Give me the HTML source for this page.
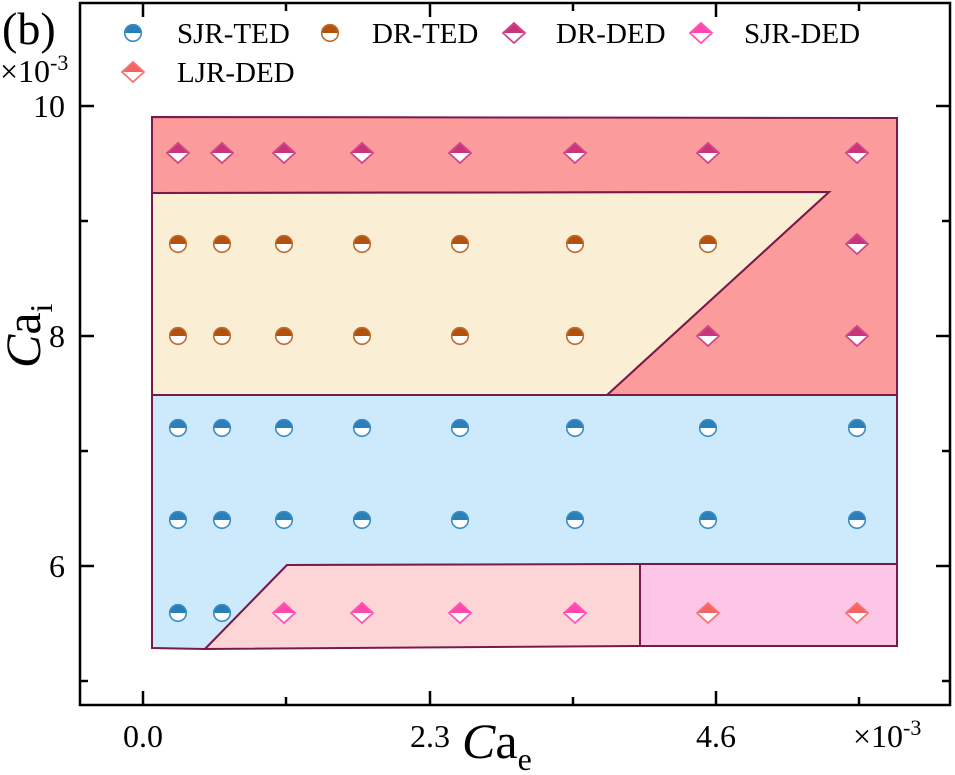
<!DOCTYPE html>
<html><head><meta charset="utf-8"><style>
html,body{margin:0;padding:0;background:#fff;}
svg{display:block;font-family:"Liberation Serif",serif;}
</style></head><body>
<svg width="955" height="775" viewBox="0 0 955 775" xmlns="http://www.w3.org/2000/svg">
<defs>
<g id="circ-b"><path d="M-9,0 A9,9 0 0 1 9,0 Z" fill="#2a7fb8"/><path d="M-9,0 A9,9 0 0 0 9,0 Z" fill="#fff"/><circle r="8.3" fill="none" stroke="#3a8cc4" stroke-width="1.6"/></g>
<g id="circ-o"><path d="M-9,0 A9,9 0 0 1 9,0 Z" fill="#b2520f"/><path d="M-9,0 A9,9 0 0 0 9,0 Z" fill="#fff"/><circle r="8.3" fill="none" stroke="#bf6a2a" stroke-width="1.6"/></g>
<g id="dia-r"><path d="M-12,0 L0,-11 L12,0 Z" fill="#c9357a"/><path d="M-12,0 L0,11 L12,0 Z" fill="#fff"/><path d="M-11,0 L0,-10 L11,0 L0,10 Z" fill="none" stroke="#d2468a" stroke-width="1.8"/></g>
<g id="dia-p"><path d="M-12,0 L0,-11 L12,0 Z" fill="#ff47ad"/><path d="M-12,0 L0,11 L12,0 Z" fill="#fff"/><path d="M-11,0 L0,-10 L11,0 L0,10 Z" fill="none" stroke="#ff55b3" stroke-width="1.8"/></g>
<g id="dia-l"><path d="M-12,0 L0,-11 L12,0 Z" fill="#f46462"/><path d="M-12,0 L0,11 L12,0 Z" fill="#fff"/><path d="M-11,0 L0,-10 L11,0 L0,10 Z" fill="none" stroke="#f77472" stroke-width="1.8"/></g>
</defs>
<g stroke="#7a1a4a" stroke-width="2" stroke-linejoin="miter">
<polygon points="152,117 897,118 897,395 607,395 829,192 152,193" fill="#fb9b9b"/>
<polygon points="152,193 829,192 607,395 152,395" fill="#faefd5"/>
<polygon points="152,395 897,395 897,564 287,565 205,649 152,648" fill="#cdeafd"/>
<polygon points="205,649 287,565 640,564 640,646" fill="#fdd5d7"/>
<polygon points="640,564 897,564 897,646 640,646" fill="#fdc6e6"/>
</g>
<g>
<use href="#dia-r" x="178" y="153"/><use href="#dia-r" x="222" y="153"/><use href="#dia-r" x="284" y="153"/><use href="#dia-r" x="362" y="153"/><use href="#dia-r" x="460" y="153"/><use href="#dia-r" x="575" y="153"/><use href="#dia-r" x="708" y="153"/><use href="#dia-r" x="857" y="153"/>
<use href="#circ-o" x="178" y="244"/><use href="#circ-o" x="222" y="244"/><use href="#circ-o" x="284" y="244"/><use href="#circ-o" x="362" y="244"/><use href="#circ-o" x="460" y="244"/><use href="#circ-o" x="575" y="244"/><use href="#circ-o" x="708" y="244"/><use href="#dia-r" x="857" y="244"/>
<use href="#circ-o" x="178" y="336"/><use href="#circ-o" x="222" y="336"/><use href="#circ-o" x="284" y="336"/><use href="#circ-o" x="362" y="336"/><use href="#circ-o" x="460" y="336"/><use href="#circ-o" x="575" y="336"/><use href="#dia-r" x="708" y="336"/><use href="#dia-r" x="857" y="336"/>
<use href="#circ-b" x="178" y="428"/><use href="#circ-b" x="222" y="428"/><use href="#circ-b" x="284" y="428"/><use href="#circ-b" x="362" y="428"/><use href="#circ-b" x="460" y="428"/><use href="#circ-b" x="575" y="428"/><use href="#circ-b" x="708" y="428"/><use href="#circ-b" x="857" y="428"/>
<use href="#circ-b" x="178" y="520"/><use href="#circ-b" x="222" y="520"/><use href="#circ-b" x="284" y="520"/><use href="#circ-b" x="362" y="520"/><use href="#circ-b" x="460" y="520"/><use href="#circ-b" x="575" y="520"/><use href="#circ-b" x="708" y="520"/><use href="#circ-b" x="857" y="520"/>
<use href="#circ-b" x="178" y="613"/><use href="#circ-b" x="222" y="613"/><use href="#dia-p" x="284" y="613"/><use href="#dia-p" x="362" y="613"/><use href="#dia-p" x="460" y="613"/><use href="#dia-p" x="575" y="613"/><use href="#dia-l" x="708" y="613"/><use href="#dia-l" x="857" y="613"/>
</g>
<rect x="80" y="3" width="870" height="702" fill="none" stroke="#000" stroke-width="2.5"/>
<g stroke="#000" stroke-width="2.5">
<line x1="143" y1="705" x2="143" y2="691"/><line x1="286" y1="705" x2="286" y2="697"/><line x1="430" y1="705" x2="430" y2="691"/><line x1="573" y1="705" x2="573" y2="697"/><line x1="716" y1="705" x2="716" y2="691"/><line x1="859" y1="705" x2="859" y2="697"/>
<line x1="143" y1="3" x2="143" y2="17"/><line x1="286" y1="3" x2="286" y2="11"/><line x1="430" y1="3" x2="430" y2="17"/><line x1="573" y1="3" x2="573" y2="11"/><line x1="716" y1="3" x2="716" y2="17"/><line x1="859" y1="3" x2="859" y2="11"/>
<line x1="80" y1="106" x2="94" y2="106"/><line x1="80" y1="221" x2="88" y2="221"/><line x1="80" y1="336" x2="94" y2="336"/><line x1="80" y1="451" x2="88" y2="451"/><line x1="80" y1="566" x2="94" y2="566"/><line x1="80" y1="681" x2="88" y2="681"/>
<line x1="950" y1="106" x2="936" y2="106"/><line x1="950" y1="221" x2="942" y2="221"/><line x1="950" y1="336" x2="936" y2="336"/><line x1="950" y1="451" x2="942" y2="451"/><line x1="950" y1="566" x2="936" y2="566"/><line x1="950" y1="681" x2="942" y2="681"/>
</g>
<g font-size="32" fill="#000">
<text x="65" y="117" text-anchor="end">10</text>
<text x="65" y="347" text-anchor="end">8</text>
<text x="65" y="577" text-anchor="end">6</text>
<text x="143" y="747" text-anchor="middle">0.0</text>
<text x="430" y="747" text-anchor="middle">2.3</text>
<text x="716" y="747" text-anchor="middle">4.6</text>
<text x="853" y="747">×10<tspan font-size="22" dy="-12">-3</tspan></text>
<text x="0" y="82">×10<tspan font-size="22" dy="-12">-3</tspan></text>
</g>
<text x="2" y="44" font-size="46">(b)</text>
<text x="462" y="758" font-size="50"><tspan font-style="italic">C</tspan>a<tspan font-size="32" dy="12">e</tspan></text>
<text transform="translate(40,368) rotate(-90)" font-size="50"><tspan font-style="italic">C</tspan>a<tspan font-size="32" dy="12">i</tspan></text>
<g font-size="29">
<use href="#circ-b" x="133" y="33"/><text x="177" y="43">SJR-TED</text>
<use href="#circ-o" x="330" y="33"/><text x="372" y="43">DR-TED</text>
<use href="#dia-r" x="514" y="33"/><text x="556" y="43">DR-DED</text>
<use href="#dia-p" x="701" y="33"/><text x="744" y="43">SJR-DED</text>
<use href="#dia-l" x="133" y="72"/><text x="177" y="82">LJR-DED</text>
</g>
</svg>
</body></html>
